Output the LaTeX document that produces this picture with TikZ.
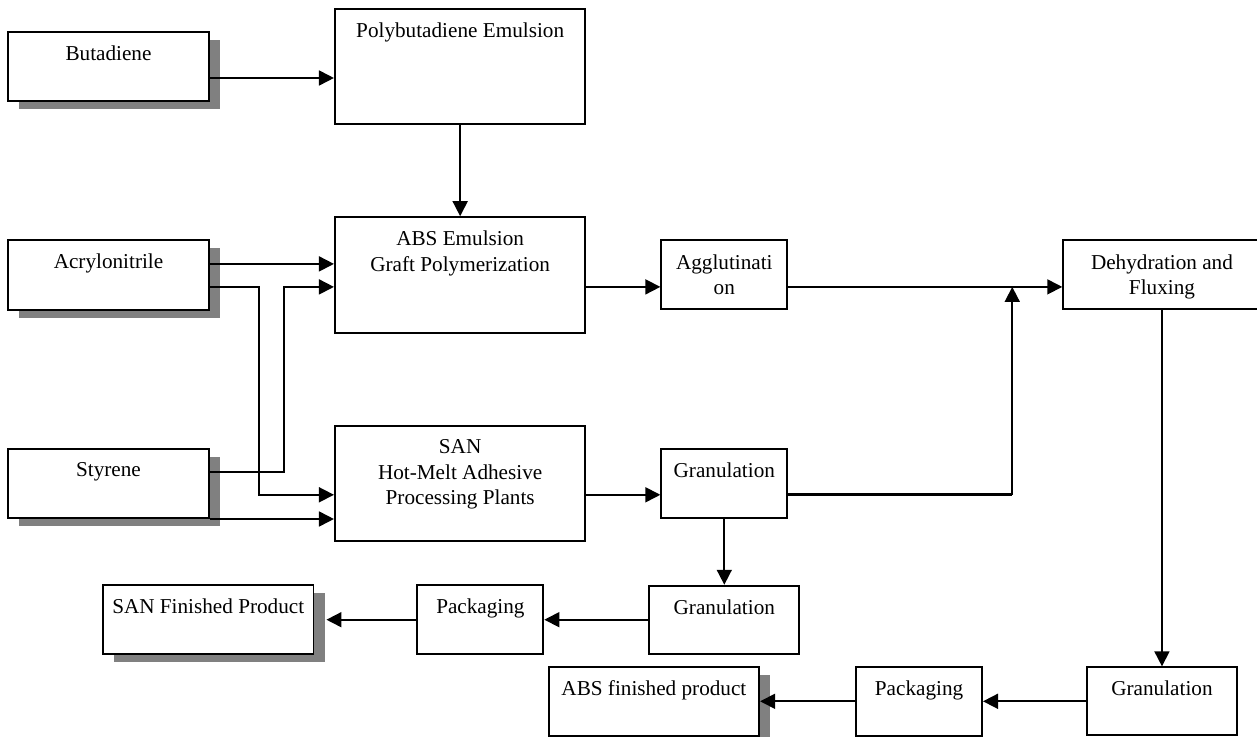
\documentclass[tikz,border=0pt]{standalone}
\usepackage{fontspec}
\setmainfont{Liberation Serif}
\usetikzlibrary{positioning,arrows.meta,shadows}

\begin{document}
\begin{tikzpicture}[
  font=\fontsize{10.6pt}{12.8pt}\selectfont,
  box/.style={draw, line width=0.95pt, fill=white, inner sep=0pt,
    label={[anchor=north, yshift=-7.25pt, align=center, inner sep=0pt]north:#1}},
  shadowbox/.style={box=#1, drop shadow={shadow xshift=5.5pt, shadow yshift=-4pt, fill=black!50, opacity=1}},
  feed/.style={minimum width=100.5pt, minimum height=34.75pt},
  bigbox/.style={minimum width=125.25pt, minimum height=57.75pt},
  smallbox/.style={minimum width=63pt, minimum height=34.5pt},
  granbox/.style={minimum width=75pt, minimum height=34pt},
  finbox/.style={minimum width=105.25pt, minimum height=34.5pt},
  arrow/.style={-{Triangle[length=7.5pt,width=7.5pt]}, line width=0.85pt}
]
\useasboundingbox (0,0) rectangle (628.5pt,-368.5pt);

\node[shadowbox=Butadiene, feed] (but) at (54.25pt,-33.25pt) {};
\node[box=Polybutadiene Emulsion, bigbox, right=62pt of but] (poly) {};

\node[box={ABS Emulsion\\Graft Polymerization}, bigbox, below=45.5pt of poly] (abs) {};
\node[shadowbox=Acrylonitrile, feed, left=62pt of abs] (acr) {};
\node[box={Agglutinati\\on}, smallbox, right=37pt of abs] (agg) {};
\node[box={Dehydration and\\Fluxing}, minimum width=98.75pt, minimum height=34.5pt, right=137pt of agg] (deh) {};

\node[box={SAN\\Hot-Melt Adhesive\\Processing Plants}, bigbox, below=45.5pt of abs] (san) {};
\node[shadowbox=Styrene, feed, left=62pt of san] (sty) {};
\node[box=Granulation, smallbox, right=37pt of san] (gra) {};

\node[box=Granulation, granbox, below=33pt of gra] (gra2) {};
\node[box=Packaging, smallbox, left=52pt of gra2] (pak1) {};
\node[shadowbox=SAN Finished Product, finbox, left=51pt of pak1] (sanfin) {};

\node[box=Granulation, granbox, below=178pt of deh] (gra3) {};
\node[box=Packaging, smallbox, left=51.5pt of gra3] (pak2) {};
\node[shadowbox=ABS finished product, finbox, left=47.5pt of pak2] (absfin) {};

\draw[arrow] ([yshift=-5.75pt]but.east) -- ([yshift=-5.75pt]poly.west);
\draw[arrow] (poly) -- (abs);
\draw[arrow] ([yshift=5.5pt]acr.east) -- ([yshift=5.5pt]abs.west);
\draw[arrow] ([yshift=-6pt]acr.east) -- ++(24.5pt,0) |- ([yshift=-5.75pt]san.west);
\draw[arrow] ([yshift=5.75pt]sty.east) -- ++(37pt,0) |- ([yshift=-6pt]abs.west);
\draw[arrow] (sty.south east) -- (sty.south east -| san.west);
\draw[arrow] ([yshift=-6pt]abs.east) -- ([yshift=-6pt]abs.east -| agg.west);
\draw[arrow] ([yshift=-6pt]agg.east) -- ([yshift=-6pt]agg.east -| deh.west);
\draw[arrow] ([yshift=-5.75pt]san.east) -- ([yshift=-5.75pt]san.east -| gra.west);

\coordinate (merge) at ([xshift=-25pt,yshift=-6pt]deh.west);
\coordinate (bend) at ([yshift=-5.75pt]gra.east -| merge);
\draw[line width=1.5pt] ([yshift=-5.75pt]gra.east) -- (bend);
\draw[arrow] (bend) -- (merge);

\draw[arrow] (gra) -- (gra2);
\draw[arrow] (gra2) -- (pak1);
\draw[arrow] (pak1) -- ([xshift=6pt]sanfin.east);
\draw[arrow] (deh) -- (gra3);
\draw[arrow] (gra3) -- (pak2);
\draw[arrow] (pak2) -- (absfin);
\end{tikzpicture}
\end{document}
